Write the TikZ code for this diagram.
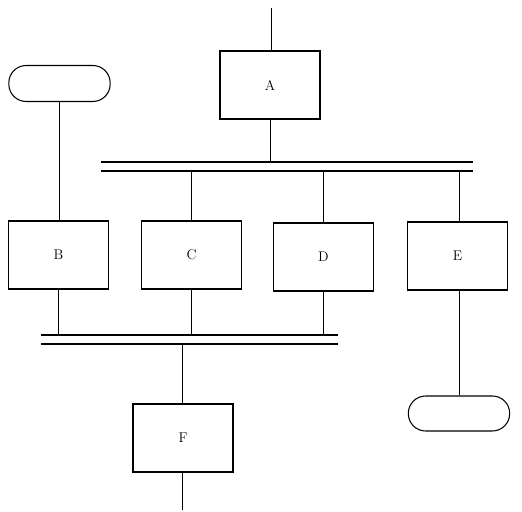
\documentclass[tikz,border=0pt]{standalone}
\usepackage{tikz}
\usetikzlibrary{calc}

\tikzset{
  blk/.style={draw, line width=0.9pt, minimum width=3cm, minimum height=2.04cm, inner sep=0pt, font=\large},
  term/.style={draw, line width=0.9pt, rounded corners=0.52cm, minimum width=3.04cm, minimum height=1.08cm, inner sep=0pt},
  wire/.style={line width=0.6pt}
}

\begin{document}
\begin{tikzpicture}[x=0.03cm, y=-0.03cm]
  \useasboundingbox (0,0) rectangle (522,512);

  % Boxes
  \node[blk] (A) at (270,85) {A};
  \node[blk] (B) at (58.5,255) {B};
  \node[blk] (C) at (191.5,255) {C};
  \node[blk] (D) at (323.5,257) {D};
  \node[blk] (E) at (457.5,256) {E};
  \node[blk] (F) at (183,438) {F};

  % Terminals
  \node[term] (t1) at (59.5,83.5) {};
  \node[term, minimum height=1.05cm] (t2) at (459,413.5) {};

  % Upper double bar
  \coordinate (u1) at (101,162);
  \coordinate (u2) at (473,162);
  \coordinate (l1) at (101,171);
  \coordinate (l2) at (473,171);
  \draw[line width=1pt] (u1) -- (u2);
  \draw[line width=1pt] (l1) -- (l2);

  % Lower double bar
  \coordinate (v1) at (41,335);
  \coordinate (v2) at (338,335);
  \coordinate (w1) at (41,344);
  \coordinate (w2) at (338,344);
  \draw[line width=1pt] (v1) -- (v2);
  \draw[line width=1pt] (w1) -- (w2);

  % Free ends
  \coordinate (in) at (271,8);
  \coordinate (out) at (182,510);

  % Connectors
  \draw[wire] (in) -- (in |- A.north);
  \draw[wire] (A.south) -- (A.south |- u1);
  \draw[wire] (t1.south) -- (t1.south |- B.north);
  \draw[wire] (C.north) -- (C.north |- l1);
  \draw[wire] (D.north) -- (D.north |- l1);
  \draw[wire] ($(E.north)+(1.5,0)$) -- ($(E.north |- l1)+(1.5,0)$);
  \draw[wire] (B.south) -- (B.south |- v1);
  \draw[wire] (C.south) -- (C.south |- v1);
  \draw[wire] (D.south) -- (D.south |- v1);
  \draw[wire] ($(E.south)+(1.5,0)$) -- ($(t2.north)$);
  \draw[wire] ($(F.north)+(-1,0)$) -- ($(F.north |- w1)+(-1,0)$);
  \draw[wire] (out) -- (out |- F.south);
\end{tikzpicture}
\end{document}
